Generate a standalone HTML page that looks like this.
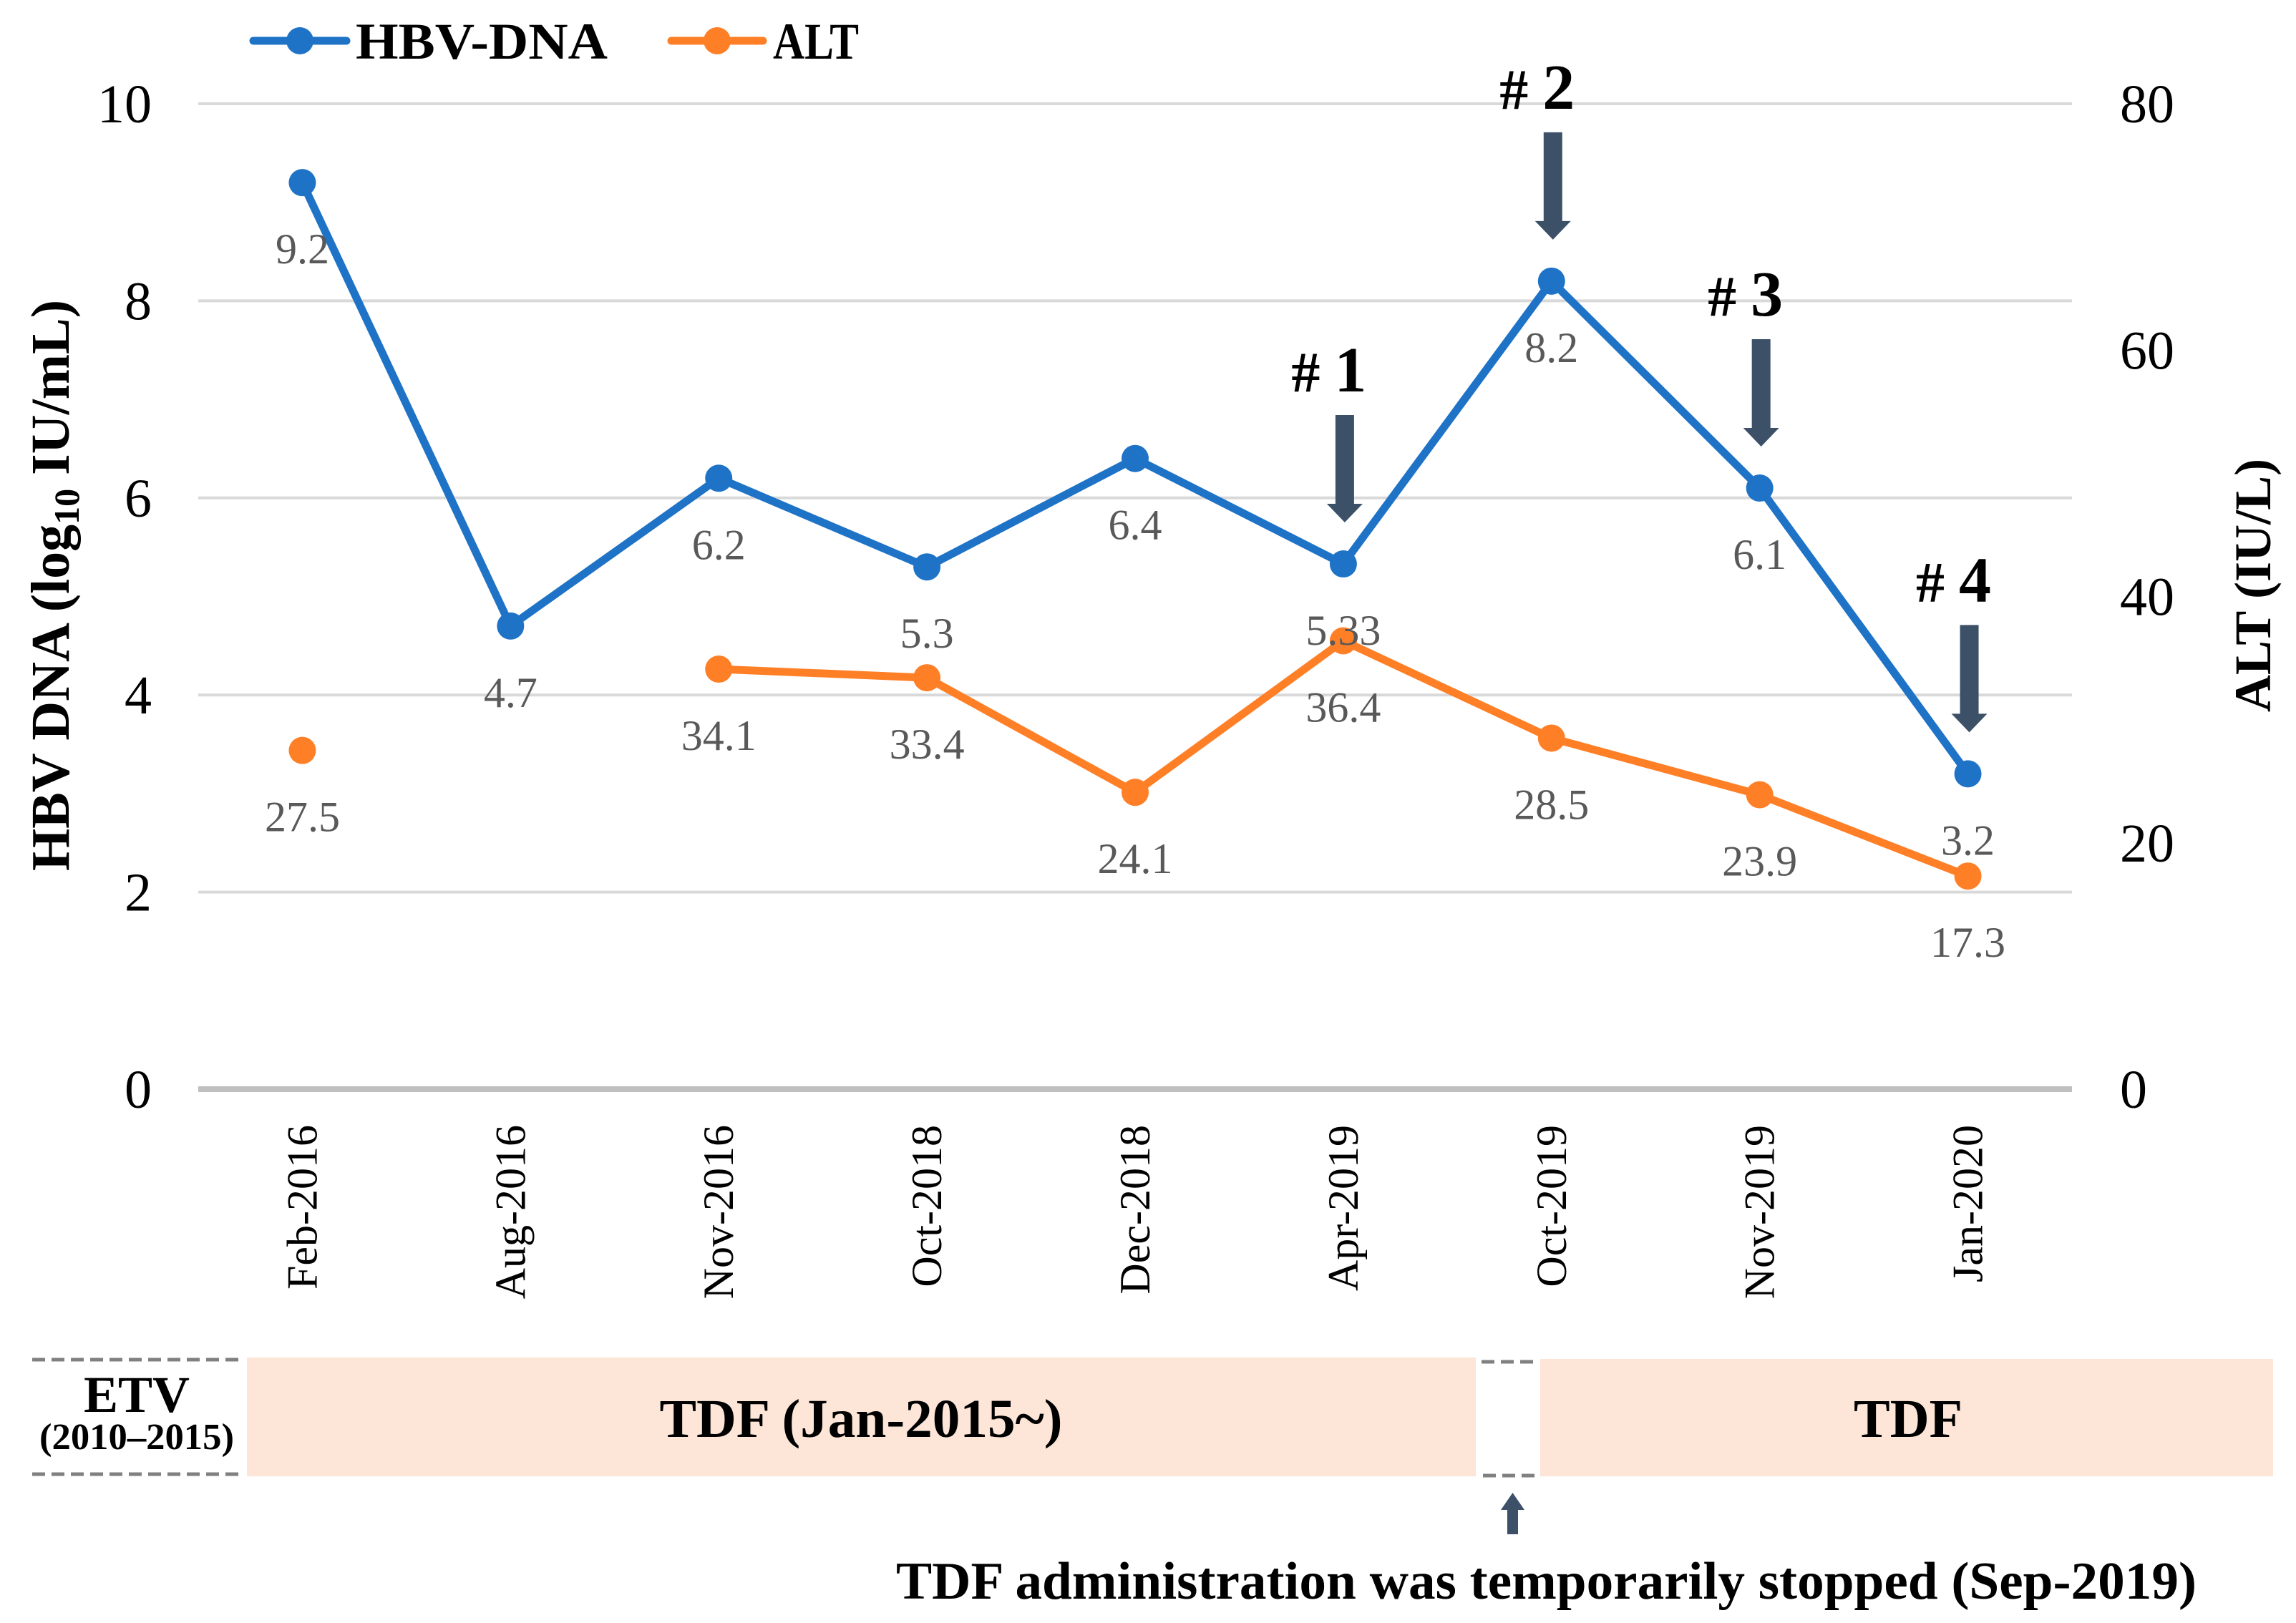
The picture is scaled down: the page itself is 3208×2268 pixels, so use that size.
<!DOCTYPE html>
<html><head><meta charset="utf-8"><style>
html,body{margin:0;padding:0;background:#fff;}
svg{display:block;font-family:"Liberation Serif",serif;}
</style></head><body>
<svg id="chart" width="3208" height="2268" viewBox="0 0 3208 2268" xmlns="http://www.w3.org/2000/svg">
<g id="grid"></g>
<g id="axes"></g>
<g id="series"></g>
<g id="labels"></g>

<text transform="translate(96,818) rotate(-90)" text-anchor="middle" font-size="76" font-weight="bold">HBV DNA (log<tspan font-size="50" dy="14">10</tspan><tspan dy="-14"> IU/mL)</tspan></text>
<text transform="translate(3172,818) rotate(-90)" text-anchor="middle" font-size="72" font-weight="bold">ALT (IU/L)</text>

<g>
  <g>
    <line x1="354" y1="57" x2="484" y2="57" stroke="#1f73c6" stroke-width="11" stroke-linecap="round"/>
    <circle cx="419" cy="57" r="19" fill="#1f73c6"/>
    <text x="497" y="82" font-size="72" font-weight="bold" textLength="352" lengthAdjust="spacingAndGlyphs">HBV-DNA</text>
  </g>
  <g>
    <line x1="938" y1="57" x2="1066" y2="57" stroke="#ff7f27" stroke-width="11" stroke-linecap="round"/>
    <circle cx="1002" cy="57" r="19" fill="#ff7f27"/>
    <text x="1080" y="82" font-size="72" font-weight="bold" textLength="120" lengthAdjust="spacingAndGlyphs">ALT</text>
  </g>
</g>

<g id="annots"></g>

<g>
  <line x1="45" y1="1900" x2="338" y2="1900" stroke="#808080" stroke-width="5" stroke-dasharray="18,9"/>
  <line x1="45" y1="2060" x2="338" y2="2060" stroke="#808080" stroke-width="5" stroke-dasharray="18,9"/>
  <text x="191" y="1973" text-anchor="middle" font-size="72" font-weight="bold">ETV</text>
  <text x="191" y="2025" text-anchor="middle" font-size="52" font-weight="bold" textLength="272" lengthAdjust="spacingAndGlyphs">(2010–2015)</text>
  <rect x="345" y="1897" width="1717" height="166" fill="#fde5d8"/>
  <text x="1203" y="2008" text-anchor="middle" font-size="76" font-weight="bold" textLength="563" lengthAdjust="spacingAndGlyphs">TDF (Jan-2015~)</text>
  <line x1="2070" y1="1903" x2="2145" y2="1903" stroke="#808080" stroke-width="5" stroke-dasharray="18,9"/>
  <line x1="2072" y1="2062" x2="2147" y2="2062" stroke="#808080" stroke-width="5" stroke-dasharray="18,9"/>
  <rect x="2152" y="1899" width="1024" height="164" fill="#fde5d8"/>
  <text x="2666" y="2008" text-anchor="middle" font-size="76" font-weight="bold">TDF</text>
  <polygon points="2106,2144 2121,2144 2121,2110 2130,2110 2113.5,2086 2097,2110 2106,2110" fill="#3c5068"/>
  <text x="1252" y="2234" font-size="74" font-weight="bold" textLength="1817" lengthAdjust="spacingAndGlyphs">TDF administration was temporarily stopped (Sep-2019)</text>
</g>
</svg>
<script>
const categories = ["Feb-2016","Aug-2016","Nov-2016","Oct-2018","Dec-2018","Apr-2019","Oct-2019","Nov-2019","Jan-2020"];
const hbvValues = [9.2,4.7,6.2,5.3,6.4,5.33,8.2,6.1,3.2];
const altValues = [27.5,null,34.1,33.4,24.1,36.4,28.5,23.9,17.3];
const leftTicks = [0,2,4,6,8,10];
const rightTicks = [0,20,40,60,80];
const annotationIdx = [5,6,7,8];
const annotationText = ["1","2","3","4"];

const NS="http://www.w3.org/2000/svg";
const L=277,R=2895,T=145,B=1522;
const bw=(R-L)/categories.length;
const xAt=i=>L+bw*(i+0.5);
const yL=v=>B-(v/10)*(B-T);
const yR=v=>B-(v/80)*(B-T);
function mk(tag,attrs,parent){const e=document.createElementNS(NS,tag);for(const k in attrs)e.setAttribute(k,attrs[k]);parent.appendChild(e);return e;}
const grid=document.getElementById('grid'),axes=document.getElementById('axes'),series=document.getElementById('series'),labels=document.getElementById('labels'),annots=document.getElementById('annots');

leftTicks.forEach(v=>{
  if(v>0){const g=mk('line',{x1:L,x2:R,y1:yL(v),y2:yL(v),stroke:'#d9d9d9','stroke-width':4},grid);
  
  }
  const t=mk('text',{x:212,y:yL(v)+26,'text-anchor':'end','font-size':76},axes);
  t.textContent=v;
  
  
});
rightTicks.forEach(v=>{
  const t=mk('text',{x:2962,y:yR(v)+26,'text-anchor':'start','font-size':76},axes);
  t.textContent=v;
  
  
});
const ax=mk('line',{x1:L,x2:R,y1:B,y2:B,stroke:'#bfbfbf','stroke-width':8},axes);


categories.forEach((c,i)=>{
  const t=mk('text',{transform:`translate(${xAt(i)+20},1572) rotate(-90)`,'text-anchor':'end','font-size':60},axes);
  t.textContent=c;
  
  
});

function drawSeries(vals,yf,color,name){
  let segs=[],cur=[];
  vals.forEach((v,i)=>{if(v==null){if(cur.length)segs.push(cur);cur=[];}else cur.push([xAt(i),yf(v)]);});
  if(cur.length)segs.push(cur);
  segs.forEach(s=>{if(s.length>1){const p=mk('polyline',{points:s.map(q=>q.join(',')).join(' '),fill:'none',stroke:color,'stroke-width':11,'stroke-linejoin':'round','stroke-linecap':'round'},series);
    
    }});
  vals.forEach((v,i)=>{if(v==null)return;
    const c=mk('circle',{cx:xAt(i),cy:yf(v),r:19,fill:color},series);
    
    
    const t=mk('text',{x:xAt(i),y:yf(v)+113,'text-anchor':'middle','font-size':60,fill:'#595959'},labels);
    t.textContent=v;
    
    
  });
}
drawSeries(altValues,yR,'#ff7f27','alt');
drawSeries(hbvValues,yL,'#1f73c6','hbv');

annotationIdx.forEach((idx,k)=>{
  const cx=xAt(idx)+2, tip=yL(hbvValues[idx])-58;
  const top=tip-150, hs=tip-26;
  const a=mk('polygon',{points:`${cx-13},${top} ${cx+13},${top} ${cx+13},${hs} ${cx+25},${hs} ${cx},${tip} ${cx-25},${hs} ${cx-13},${hs}`,fill:'#3c5068'},annots);
  
  
  const t=mk('text',{x:cx-22,y:top-33,'text-anchor':'middle','font-weight':'bold'},annots);
  t.innerHTML=`<tspan font-size="80"># </tspan><tspan font-size="90">${annotationText[k]}</tspan>`;
  
  
});
</script>
</body></html>
